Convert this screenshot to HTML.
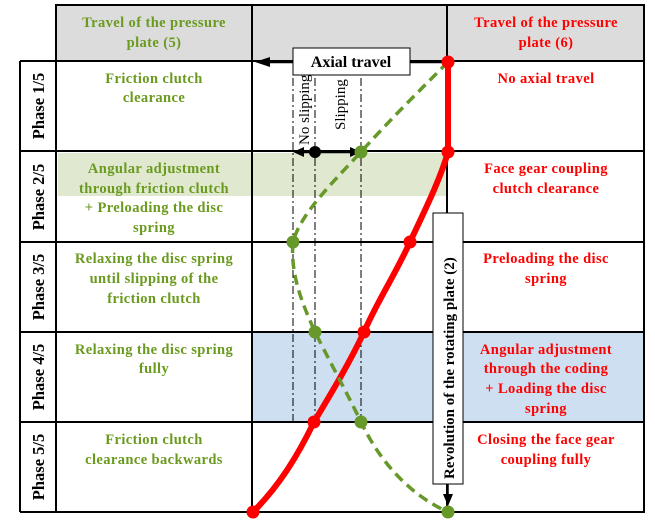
<!DOCTYPE html>
<html><head><meta charset="utf-8"><style>
html,body{margin:0;padding:0;background:#fff}
svg{display:block}
svg text{font-family:"Liberation Serif","DejaVu Serif",serif !important;font-weight:bold}
.g{fill:#6a9a1e;font-size:14.5px;letter-spacing:0.4px}
.r{fill:#ff0000;font-size:14.5px;letter-spacing:0.4px}
.p{fill:#000;font-size:16.5px}
</style></head><body>
<svg width="655" height="522" viewBox="0 0 655 522" xmlns="http://www.w3.org/2000/svg" font-family="Liberation Serif, serif">
<rect x="56" y="5" width="588" height="56" fill="#dcdcdc"/>
<rect x="58" y="153" width="389" height="43" fill="#e0e9d0"/>
<rect x="253" y="333" width="391" height="89" fill="#cddff0"/>
<g stroke="#000" stroke-width="2" fill="none">
<rect x="56" y="5" width="588" height="507"/>
<line x1="20" y1="61" x2="644" y2="61"/>
<line x1="20" y1="61" x2="20" y2="512"/><line x1="20" y1="512" x2="56" y2="512"/>
<line x1="252" y1="5" x2="252" y2="512"/>
<line x1="447" y1="5" x2="447" y2="512"/>
<line x1="20" y1="151" x2="644" y2="151"/>
<line x1="20" y1="242" x2="644" y2="242"/>
<line x1="20" y1="332" x2="644" y2="332"/>
<line x1="20" y1="422" x2="644" y2="422"/>
</g>
<g stroke="#000" stroke-width="1" stroke-dasharray="8,3,2,3">
<line x1="293" y1="78" x2="293" y2="422"/>
<line x1="315" y1="78" x2="315" y2="422"/>
<line x1="361" y1="78" x2="361" y2="422"/>
</g>
<line x1="447" y1="62" x2="266" y2="62" stroke="#000" stroke-width="2.5"/>
<polygon points="255,62 270,57 270,67" fill="#000"/>
<rect x="293" y="48" width="117" height="27" fill="#fff" stroke="#000"/>
<text x="351" y="67" text-anchor="middle" class="p" style="font-size:16px">Axial travel</text>
<line x1="300" y1="152" x2="354" y2="152" stroke="#000" stroke-width="2.5"/>
<polygon points="293,152 304,147 304,157" fill="#000"/>
<polygon points="361,152 350,147 350,157" fill="#000"/>
<circle cx="315" cy="152" r="6" fill="#000"/>
<text transform="translate(309,145) rotate(-90)" style="font-weight:normal;font-size:15px">No slipping</text>
<text transform="translate(345,130) rotate(-90)" style="font-weight:normal;font-size:15px">Slipping</text>
<path d="M448,62 L448,152 C440,180 425,210 410,242 C395,275 378,300 364,332 C350,362 332,392 314,422 C298,455 280,485 253,512" fill="none" stroke="#ff0000" stroke-width="6"/>
<path d="M448,62 C420,90 385,125 361,152 C330,185 300,215 293,242 C290,275 303,305 315,332 C330,362 348,395 361,422 C380,462 410,495 448,512" fill="none" stroke="#66982a" stroke-width="3.5" stroke-dasharray="10,6"/>
<g fill="#ff0000"><circle cx="448" cy="62" r="6.5"/><circle cx="448" cy="152" r="6.5"/><circle cx="410" cy="242" r="6.5"/><circle cx="364" cy="332" r="6.5"/><circle cx="314" cy="422" r="6.5"/><circle cx="253" cy="512" r="6.5"/></g>
<g fill="#66982a"><circle cx="361" cy="152" r="6.5"/><circle cx="293" cy="242" r="6.5"/><circle cx="315" cy="332" r="6.5"/><circle cx="361" cy="422" r="6.5"/><circle cx="448" cy="512" r="6.5"/></g>
<rect x="433" y="213" width="30" height="271" fill="#fff" stroke="#000"/>
<text transform="translate(454,479) rotate(-90)" class="p" style="font-size:15px">Revolution of the rotating plate (2)</text>
<line x1="448" y1="484" x2="448" y2="498" stroke="#000" stroke-width="1.5"/>
<polygon points="448,506 443,494 453,494" fill="#000"/>
<g class="p">
<text transform="translate(44,106) rotate(-90)" text-anchor="middle">Phase 1/5</text>
<text transform="translate(44,197) rotate(-90)" text-anchor="middle">Phase 2/5</text>
<text transform="translate(44,287) rotate(-90)" text-anchor="middle">Phase 3/5</text>
<text transform="translate(44,377) rotate(-90)" text-anchor="middle">Phase 4/5</text>
<text transform="translate(44,467) rotate(-90)" text-anchor="middle">Phase 5/5</text>
</g>
<g class="g" text-anchor="middle">
<text x="154" y="27">Travel of the pressure</text><text x="154" y="47">plate (5)</text>
<text x="154" y="83">Friction clutch</text><text x="154" y="102">clearance</text>
<text x="154" y="173">Angular adjustment</text><text x="154" y="193">through friction clutch</text><text x="154" y="212">+ Preloading the disc</text><text x="154" y="232">spring</text>
<text x="154" y="263">Relaxing the disc spring</text><text x="154" y="283">until slipping of the</text><text x="154" y="303">friction clutch</text>
<text x="154" y="354">Relaxing the disc spring</text><text x="154" y="373">fully</text>
<text x="154" y="444">Friction clutch</text><text x="154" y="464">clearance backwards</text>
</g>
<g class="r" text-anchor="middle">
<text x="546" y="27">Travel of the pressure</text><text x="546" y="47">plate (6)</text>
<text x="546" y="83">No axial travel</text>
<text x="546" y="173">Face gear coupling</text><text x="546" y="193">clutch clearance</text>
<text x="546" y="263">Preloading the disc</text><text x="546" y="283">spring</text>
<text x="546" y="354">Angular adjustment</text><text x="546" y="373">through the coding</text><text x="546" y="393">+ Loading the disc</text><text x="546" y="413">spring</text>
<text x="546" y="444">Closing the face gear</text><text x="546" y="464">coupling fully</text>
</g>
</svg>
</body></html>
